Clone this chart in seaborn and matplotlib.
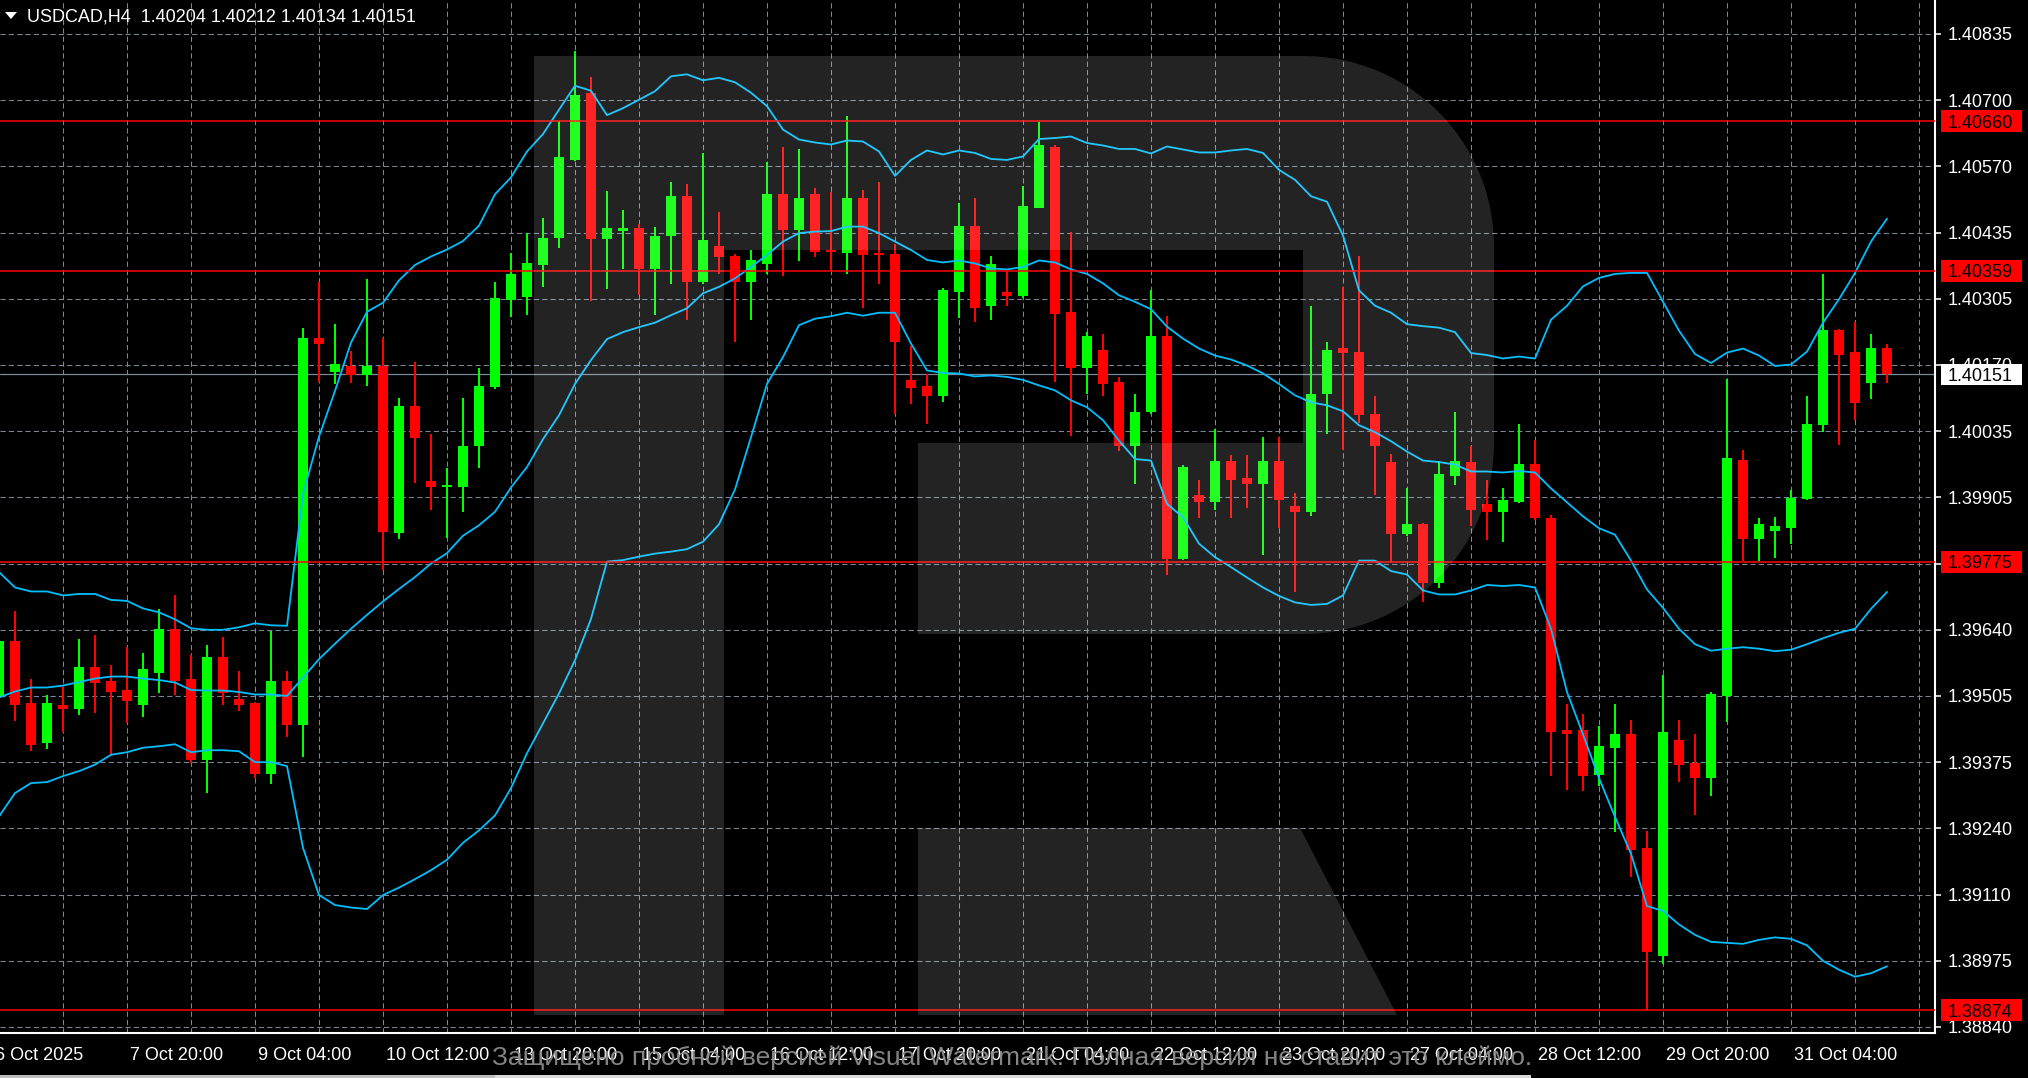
import numpy as np
import pandas as pd
import seaborn as sns
import matplotlib
matplotlib.use('Agg')
import matplotlib.pyplot as plt
import matplotlib.transforms as mtransforms
from matplotlib.patches import Rectangle, Polygon

# USDCAD H4 candles (oldest first)
opens = [
    1.39502, 1.39616, 1.39490, 1.39410, 1.39487, 1.39478, 1.39563, 1.39535, 1.39518, 1.39487,
    1.39551, 1.39639, 1.39539, 1.39377, 1.39583, 1.39498, 1.39490, 1.39349, 1.39535, 1.39447,
    1.40224, 1.40156, 1.40168, 1.40149, 1.40168, 1.39832, 1.40088, 1.39936, 1.39924, 1.39924,
    1.40008, 1.40125, 1.40301, 1.40306, 1.40370, 1.40426, 1.40582, 1.40716, 1.40423, 1.40439,
    1.40446, 1.40362, 1.40430, 1.40510, 1.40337, 1.40409, 1.40389, 1.40337, 1.40373, 1.40514,
    1.40441, 1.40514, 1.40401, 1.40394, 1.40506, 1.40394, 1.40393, 1.40139, 1.40127, 1.40108,
    1.40317, 1.40449, 1.40288, 1.40316, 1.40309, 1.40486, 1.40607, 1.40277, 1.40164, 1.40200,
    1.40136, 1.40008, 1.40075, 1.40228, 1.39781, 1.39909, 1.39894, 1.39978, 1.39942, 1.39930,
    1.39978, 1.39886, 1.39874, 1.40111, 1.40204, 1.40196, 1.40072, 1.39976, 1.39830, 1.39851,
    1.39731, 1.39947, 1.39976, 1.39891, 1.39875, 1.39895, 1.39971, 1.39863, 1.39437, 1.39437,
    1.39346, 1.39401, 1.39429, 1.39199, 1.38983, 1.39416, 1.39370, 1.39341, 1.39504, 1.39980,
    1.39820, 1.39836, 1.39843, 1.39900, 1.40049, 1.40240, 1.40196, 1.40133, 1.40204]
highs = [
    1.39640, 1.39676, 1.39539, 1.39506, 1.39524, 1.39619, 1.39627, 1.39567, 1.39603, 1.39591,
    1.39680, 1.39708, 1.39587, 1.39607, 1.39623, 1.39555, 1.39492, 1.39635, 1.39555, 1.40245,
    1.40337, 1.40253, 1.40198, 1.40342, 1.40225, 1.40104, 1.40177, 1.40032, 1.39964, 1.40104,
    1.40164, 1.40337, 1.40394, 1.40435, 1.40466, 1.40660, 1.40800, 1.40748, 1.40519, 1.40482,
    1.40454, 1.40448, 1.40538, 1.40534, 1.40595, 1.40478, 1.40392, 1.40401, 1.40578, 1.40607,
    1.40603, 1.40526, 1.40518, 1.40671, 1.40522, 1.40538, 1.40413, 1.40208, 1.40151, 1.40324,
    1.40495, 1.40506, 1.40389, 1.40358, 1.40530, 1.40659, 1.40611, 1.40437, 1.40236, 1.40232,
    1.40146, 1.40112, 1.40321, 1.40268, 1.39970, 1.39938, 1.40042, 1.39990, 1.39990, 1.40026,
    1.40026, 1.39913, 1.40288, 1.40216, 1.40326, 1.40389, 1.40108, 1.39991, 1.39922, 1.39852,
    1.39978, 1.40076, 1.40007, 1.39939, 1.39922, 1.40052, 1.40019, 1.39869, 1.39489, 1.39468,
    1.39445, 1.39489, 1.39457, 1.39234, 1.39548, 1.39457, 1.39429, 1.39513, 1.40141, 1.39999,
    1.39863, 1.39864, 1.39918, 1.40108, 1.40353, 1.40243, 1.40257, 1.40233, 1.40212]
lows = [
    1.39480, 1.39455, 1.39394, 1.39398, 1.39433, 1.39467, 1.39470, 1.39384, 1.39451, 1.39463,
    1.39510, 1.39506, 1.39371, 1.39310, 1.39487, 1.39475, 1.39340, 1.39329, 1.39422, 1.39382,
    1.40136, 1.40132, 1.40133, 1.40128, 1.39759, 1.39820, 1.39932, 1.39879, 1.39823, 1.39875,
    1.39964, 1.40121, 1.40266, 1.40270, 1.40326, 1.40406, 1.40579, 1.40298, 1.40322, 1.40362,
    1.40310, 1.40270, 1.40333, 1.40261, 1.40333, 1.40353, 1.40216, 1.40261, 1.40353, 1.40349,
    1.40378, 1.40386, 1.40361, 1.40353, 1.40284, 1.40333, 1.40072, 1.40092, 1.40052, 1.40095,
    1.40265, 1.40257, 1.40261, 1.40289, 1.40305, 1.40486, 1.40136, 1.40027, 1.40112, 1.40108,
    1.39998, 1.39930, 1.40071, 1.39749, 1.39778, 1.39862, 1.39878, 1.39862, 1.39882, 1.39789,
    1.39842, 1.39713, 1.39866, 1.40031, 1.39999, 1.40053, 1.39908, 1.39774, 1.39827, 1.39694,
    1.39722, 1.39928, 1.39846, 1.39818, 1.39815, 1.39893, 1.39858, 1.39345, 1.39317, 1.39315,
    1.39325, 1.39232, 1.39141, 1.38874, 1.38967, 1.39332, 1.39265, 1.39305, 1.39453, 1.39776,
    1.39776, 1.39782, 1.39811, 1.39898, 1.40036, 1.40009, 1.40059, 1.40102, 1.40134]
closes = [
    1.39616, 1.39487, 1.39406, 1.39490, 1.39478, 1.39563, 1.39531, 1.39514, 1.39495, 1.39559,
    1.39639, 1.39535, 1.39377, 1.39583, 1.39510, 1.39487, 1.39349, 1.39535, 1.39447, 1.40224,
    1.40213, 1.40172, 1.40149, 1.40168, 1.39835, 1.40088, 1.40024, 1.39924, 1.39928, 1.40007,
    1.40128, 1.40305, 1.40353, 1.40374, 1.40426, 1.40587, 1.40712, 1.40423, 1.40446, 1.40446,
    1.40362, 1.40430, 1.40510, 1.40337, 1.40421, 1.40386, 1.40337, 1.40381, 1.40514, 1.40441,
    1.40506, 1.40398, 1.40398, 1.40506, 1.40390, 1.40390, 1.40216, 1.40124, 1.40108, 1.40320,
    1.40449, 1.40284, 1.40373, 1.40309, 1.40490, 1.40611, 1.40273, 1.40164, 1.40228, 1.40132,
    1.40008, 1.40075, 1.40228, 1.39781, 1.39966, 1.39894, 1.39978, 1.39938, 1.39930, 1.39978,
    1.39898, 1.39874, 1.40111, 1.40200, 1.40194, 1.40069, 1.40008, 1.39831, 1.39851, 1.39731,
    1.39951, 1.39978, 1.39879, 1.39875, 1.39899, 1.39971, 1.39863, 1.39433, 1.39429, 1.39345,
    1.39405, 1.39429, 1.39196, 1.38991, 1.39432, 1.39366, 1.39341, 1.39509, 1.39984, 1.39820,
    1.39850, 1.39847, 1.39903, 1.40052, 1.40240, 1.40190, 1.40093, 1.40205, 1.40151]

# Bollinger bands as drawn on the chart
bb_upper = [
    1.39754, 1.39723, 1.39715, 1.39715, 1.39707, 1.39710, 1.39710, 1.39698, 1.39696, 1.39681,
    1.39673, 1.39659, 1.39641, 1.39638, 1.39638, 1.39643, 1.39651, 1.39647, 1.39646, 1.39911,
    1.40026, 1.40118, 1.40215, 1.40277, 1.40295, 1.40340, 1.40371, 1.40388, 1.40402, 1.40419,
    1.40450, 1.40513, 1.40547, 1.40599, 1.40634, 1.40683, 1.40731, 1.40721, 1.40672, 1.40686,
    1.40703, 1.40720, 1.40750, 1.40754, 1.40742, 1.40747, 1.40738, 1.40717, 1.40690, 1.40643,
    1.40623, 1.40617, 1.40613, 1.40621, 1.40619, 1.40599, 1.40550, 1.40582, 1.40601, 1.40593,
    1.40601, 1.40596, 1.40584, 1.40582, 1.40589, 1.40624, 1.40626, 1.40629, 1.40616, 1.40611,
    1.40604, 1.40604, 1.40595, 1.40609, 1.40603, 1.40597, 1.40597, 1.40601, 1.40604, 1.40596,
    1.40562, 1.40542, 1.40509, 1.40498, 1.40430, 1.40320, 1.40289, 1.40275, 1.40252, 1.40248,
    1.40245, 1.40236, 1.40194, 1.40190, 1.40183, 1.40187, 1.40183, 1.40261, 1.40289, 1.40328,
    1.40345, 1.40353, 1.40355, 1.40355, 1.40297, 1.40239, 1.40192, 1.40174, 1.40195, 1.40203,
    1.40189, 1.40168, 1.40171, 1.40197, 1.40255, 1.40302, 1.40355, 1.40418, 1.40464]
bb_middle = [
    1.39502, 1.39514, 1.39522, 1.39522, 1.39526, 1.39533, 1.39540, 1.39544, 1.39544, 1.39540,
    1.39537, 1.39532, 1.39517, 1.39516, 1.39516, 1.39513, 1.39508, 1.39508, 1.39505, 1.39542,
    1.39579, 1.39610, 1.39640, 1.39668, 1.39695, 1.39720, 1.39744, 1.39771, 1.39792, 1.39827,
    1.39848, 1.39875, 1.39924, 1.39965, 1.40021, 1.40069, 1.40132, 1.40180, 1.40222, 1.40236,
    1.40246, 1.40255, 1.40270, 1.40284, 1.40314, 1.40327, 1.40344, 1.40367, 1.40391, 1.40418,
    1.40435, 1.40438, 1.40439, 1.40448, 1.40448, 1.40435, 1.40418, 1.40401, 1.40381, 1.40376,
    1.40380, 1.40374, 1.40364, 1.40362, 1.40367, 1.40380, 1.40376, 1.40362, 1.40353, 1.40334,
    1.40310, 1.40297, 1.40282, 1.40247, 1.40223, 1.40203, 1.40189, 1.40181, 1.40169, 1.40153,
    1.40132, 1.40109, 1.40095, 1.40089, 1.40077, 1.40049, 1.40035, 1.40017, 1.39996, 1.39978,
    1.39975, 1.39970, 1.39956, 1.39956, 1.39954, 1.39957, 1.39954, 1.39922, 1.39894, 1.39866,
    1.39842, 1.39829, 1.39777, 1.39719, 1.39682, 1.39640, 1.39609, 1.39596, 1.39600, 1.39603,
    1.39600, 1.39595, 1.39598, 1.39609, 1.39621, 1.39632, 1.39640, 1.39680, 1.39714]
bb_lower = [
    1.39263, 1.39310, 1.39330, 1.39332, 1.39344, 1.39354, 1.39367, 1.39387, 1.39392, 1.39401,
    1.39404, 1.39408, 1.39392, 1.39396, 1.39396, 1.39394, 1.39372, 1.39372, 1.39364, 1.39200,
    1.39105, 1.39085, 1.39080, 1.39077, 1.39105, 1.39120, 1.39137, 1.39155, 1.39176, 1.39210,
    1.39235, 1.39265, 1.39320, 1.39390, 1.39450, 1.39510, 1.39577, 1.39660, 1.39775, 1.39778,
    1.39785, 1.39791, 1.39795, 1.39800, 1.39815, 1.39850, 1.39920, 1.40025, 1.40132, 1.40186,
    1.40250, 1.40263, 1.40268, 1.40275, 1.40269, 1.40275, 1.40275, 1.40213, 1.40159, 1.40154,
    1.40153, 1.40147, 1.40149, 1.40146, 1.40140, 1.40129, 1.40119, 1.40099, 1.40085, 1.40059,
    1.40018, 1.39981, 1.39978, 1.39891, 1.39864, 1.39811, 1.39784, 1.39764, 1.39743, 1.39723,
    1.39706, 1.39693, 1.39688, 1.39690, 1.39707, 1.39777, 1.39777, 1.39756, 1.39749, 1.39717,
    1.39709, 1.39709, 1.39717, 1.39728, 1.39726, 1.39728, 1.39723, 1.39640, 1.39513, 1.39428,
    1.39340, 1.39262, 1.39188, 1.39083, 1.39073, 1.39046, 1.39025, 1.39011, 1.39009, 1.39007,
    1.39015, 1.39020, 1.39017, 1.39004, 1.38973, 1.38955, 1.38941, 1.38948, 1.38962]

level_lines = [1.40660, 1.40359, 1.39775, 1.38874]
last_price = 1.40151

price_ticks = [1.40835, 1.40702, 1.40569, 1.40436, 1.40303, 1.40170, 1.40037, 1.39904,
               1.39771, 1.39638, 1.39505, 1.39372, 1.39239, 1.39106, 1.38973, 1.38840]
price_labels = ['1.40835', '1.40700', '1.40570', '1.40435', '1.40305', '1.40170', '1.40035', '1.39905',
                '1.39775', '1.39640', '1.39505', '1.39375', '1.39240', '1.39110', '1.38975', '1.38840']

date_ticks = [8, 16, 24, 32, 40, 48, 56, 64, 72, 80, 88, 96, 104, 112]
date_labels = ['7 Oct 20:00', '9 Oct 04:00', '10 Oct 12:00', '13 Oct 20:00', '15 Oct 04:00',
               '16 Oct 12:00', '17 Oct 20:00', '21 Oct 04:00', '22 Oct 12:00', '23 Oct 20:00',
               '27 Oct 04:00', '28 Oct 12:00', '29 Oct 20:00', '31 Oct 04:00']
first_label = '6 Oct 2025'

header = 'USDCAD,H4  1.40204 1.40212 1.40134 1.40151'
watermark = 'Защищено пробной версией Visual Watermark. Полная версия не ставит это клеймо.'

# ---------------------------------------------------------------
W, H = 2028, 1078
PLOT_W, PLOT_H, BOTTOM = 1935, 1033, 45

sns.set_style('dark')
plt.rcParams['font.family'] = ['Liberation Sans', 'DejaVu Sans']

df = pd.DataFrame({'i': np.arange(len(closes)), 'open': opens, 'high': highs,
                   'low': lows, 'close': closes,
                   'upper': bb_upper, 'middle': bb_middle, 'lower': bb_lower})

fig = plt.figure(figsize=(W / 100, H / 100), dpi=100, facecolor='black')
ax = fig.add_axes([0, BOTTOM / H, PLOT_W / W, PLOT_H / H])
ax.set_facecolor('black')
ax.grid(False)
ylim = (1.388279, 1.409033)
ax.set_xlim(1 / 16, 121)
ax.set_ylim(*ylim)
ppx = (ylim[1] - ylim[0]) / PLOT_H   # price per pixel

grid_col = '#778899'
for p in price_ticks:
    ax.axhline(p, color=grid_col, lw=0.75, ls=(0, (5, 3)), zorder=1)
for g in range(4, 121, 4):
    ax.axvline(g, color=grid_col, lw=0.75, ls=(0, (5, 3)), zorder=1)

ax.axhline(last_price, color=grid_col, lw=0.9, zorder=2)

# candles
up = df['close'] >= df['open']
cols = np.where(up, '#00ff00', '#ff0000')
ax.vlines(df['i'], df['low'], df['high'], colors=cols, lw=1.44, zorder=3)
body = np.maximum((df['close'] - df['open']).abs(), 2 * ppx)
ax.bar(df['i'], body, bottom=np.minimum(df['open'], df['close']), width=0.625,
       color=cols, lw=0, zorder=4)

# bollinger bands
for col in ['upper', 'middle', 'lower']:
    sns.lineplot(data=df, x='i', y=col, color='#00bfff', lw=1.3, ax=ax,
                 legend=False, zorder=5)
ax.set_xlabel('')
ax.set_ylabel('')

for lv in level_lines:
    ax.axhline(lv, color='#ff0000', lw=1.1, zorder=6)

# axes frame
for s in ['top', 'left']:
    ax.spines[s].set_visible(False)
for s in ['bottom', 'right']:
    ax.spines[s].set_color('white')
    ax.spines[s].set_linewidth(1.5)

ax.yaxis.tick_right()
ax.set_yticks(price_ticks)
ax.set_yticklabels(price_labels)
ax.tick_params(axis='y', colors='white', length=4.3, width=1.1, pad=5, labelsize=13,
               left=False, right=True, labelleft=False, labelright=True)
ax.set_xticks(date_ticks)
ax.tick_params(axis='x', colors='white', length=4.3, width=1.1, labelbottom=False)

# date labels, left aligned at the tick like MT4
tx = mtransforms.blended_transform_factory(ax.transData, fig.transFigure)
for t, lab in zip(date_ticks, date_labels):
    ax.text(t + 3 / 16, 18 / H, lab, transform=tx, color='white', fontsize=13,
            ha='left', va='baseline', clip_on=False)
fig.text(-5 / W, 18 / H, first_label, color='white', fontsize=13, ha='left', va='baseline')

# price boxes on the right scale
ty = mtransforms.blended_transform_factory(fig.transFigure, ax.transData)


def price_box(price, face, hgt=22):
    fig.add_artist(Rectangle((1941 / W, price - hgt / 2 * ppx), 81 / W, hgt * ppx,
                             transform=ty, facecolor=face, edgecolor='none', zorder=10))
    fig.text(1948 / W, price, f'{price:.5f}', transform=ty, color='black', fontsize=13,
             ha='left', va='center_baseline', zorder=11)


for lv in level_lines:
    price_box(lv, '#ff0000')
price_box(last_price, 'white', 21)

# header
fig.text(27 / W, 1 - 21.5 / H, header, color='white', fontsize=13, ha='left', va='baseline')
fig.add_artist(Polygon([(5 / W, 1 - 12 / H), (17 / W, 1 - 12 / H), (11 / W, 1 - 19 / H)],
                       closed=True, transform=fig.transFigure, facecolor='white',
                       edgecolor='none'))

# "R" logo overlay (semi transparent white)
tpx = mtransforms.Affine2D().scale(1 / W, -1 / H).translate(0, 1) + fig.transFigure
a1 = np.linspace(-np.pi / 2, 0, 30)
a2 = np.linspace(0, np.pi / 2, 30)
r = 190
outline = [(534, 56)]
outline += list(zip(1304 + r * np.cos(a1), 246 + r * np.sin(a1)))
outline += list(zip(1494 + 0 * a2, [246]))[:0]
outline += list(zip(1304 + r * np.cos(a2), 444 + r * np.sin(a2)))
outline += [(918, 634), (918, 443), (1303, 443), (1303, 250), (724, 250),
            (724, 1015), (534, 1015)]
leg = [(918, 828), (1300, 828), (1397, 1015), (918, 1015)]
for shape in (outline, leg):
    fig.add_artist(Polygon(shape, closed=True, transform=tpx, facecolor='white',
                           edgecolor='none', alpha=0.14, zorder=5))

# watermark strip at the bottom
fig.add_artist(Rectangle((0, 0), 495 / W, 3 / H, transform=fig.transFigure,
                         facecolor='#bdbdbd', edgecolor='none', zorder=12))
fig.add_artist(Rectangle((495 / W, 0), 1036 / W, 3 / H, transform=fig.transFigure,
                         facecolor='#dadada', edgecolor='none', zorder=12))
fig.text(1012 / W, 20 / H, watermark, color='#8c8c8c', fontsize=19, ha='center',
         va='center', alpha=0.95, zorder=13)

fig.savefig('out.png', dpi=100, facecolor='black')
